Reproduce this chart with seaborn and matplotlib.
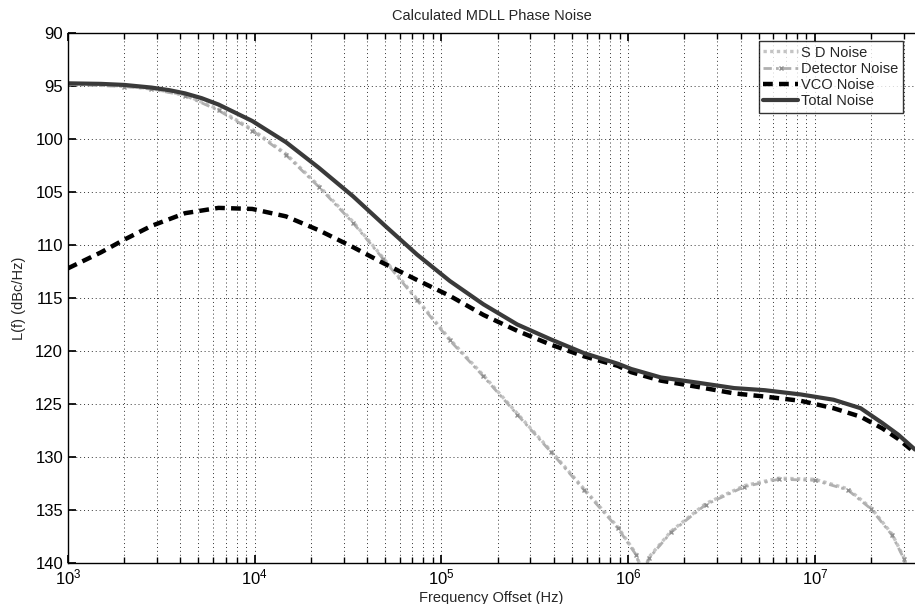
import numpy as np
import pandas as pd
import matplotlib
matplotlib.use("Agg")
import matplotlib.pyplot as plt
import seaborn as sns
from matplotlib.ticker import LogLocator, MultipleLocator, NullFormatter

sns.set_theme(style="white")
plt.rcParams['font.family'] = ['Liberation Sans', 'DejaVu Sans']

# values (positive dBc/Hz, axis runs 90 top -> 140 bottom)
total_f = [1e3, 1.5e3, 2e3, 2.8e3, 3.5e3, 4.24e3, 5.2e3, 6.4e3, 9.7e3, 1.47e4, 2.2e4, 3.36e4, 5e4, 7.4e4,
           1.11e5, 1.68e5, 2.55e5, 3.85e5, 5.8e5, 8.8e5, 1.04e6, 1.5e6, 2.38e6, 3.7e6, 5.4e6, 8.4e6,
           1.26e7, 1.76e7, 2.3e7, 2.8e7, 3.44e7]
total_v = [94.75, 94.8, 94.9, 95.15, 95.4, 95.7, 96.15, 96.75, 98.3, 100.3, 102.7, 105.4, 108.2, 110.9,
           113.4, 115.6, 117.5, 118.9, 120.2, 121.2, 121.7, 122.5, 123.0, 123.5, 123.7, 124.1,
           124.6, 125.4, 126.8, 127.9, 129.3]

vco_f = [1e3, 1.5e3, 2e3, 2.8e3, 4.24e3, 6.4e3, 9.7e3, 1.47e4, 2.2e4, 3.36e4, 4.87e4, 7.4e4, 1.11e5,
         1.68e5, 2.55e5, 3.85e5, 5.8e5, 8.8e5, 1.04e6, 1.5e6, 2.38e6, 3.7e6, 5.4e6, 8.4e6,
         1.26e7, 1.76e7, 2.3e7, 2.8e7, 3.44e7]
vco_v = [112.2, 110.7, 109.5, 108.2, 107.0, 106.5, 106.6, 107.3, 108.6, 110.2, 111.7, 113.3, 114.8,
         116.6, 118.1, 119.4, 120.5, 121.4, 122.0, 122.8, 123.4, 124.0, 124.3, 124.7,
         125.4, 126.2, 127.3, 128.3, 129.6]

det_f = [1e3, 2e3, 2.8e3, 4.24e3, 6.4e3, 9.7e3, 1.47e4, 2.2e4, 3.36e4, 4.87e4, 7.4e4, 1.11e5,
         1.68e5, 2.55e5, 3.85e5, 5.8e5, 8.8e5, 1.1e6, 1.2e6, 1.3e6, 1.7e6, 2.6e6, 4.2e6,
         6.4e6, 1e7, 1.5e7, 2e7, 2.6e7, 3e7, 3.2e7]
det_v = [94.85, 95.05, 95.3, 95.9, 97.3, 99.2, 101.5, 104.5, 107.9, 111.3, 115.2, 119.0,
         122.4, 126.0, 129.5, 133.1, 136.7, 139.2, 141.0, 139.5, 137.1, 134.5, 132.8,
         132.1, 132.2, 133.1, 134.9, 137.4, 139.6, 141.5]

sd_f = [1e3, 2e3, 2.8e3, 4.24e3, 6.4e3, 9.7e3, 1.47e4, 2.2e4, 3.36e4, 4.87e4, 7.4e4, 1.11e5,
        1.68e5, 2.55e5, 3.85e5, 5.8e5, 8.8e5, 1.1e6, 1.2e6, 1.3e6, 1.7e6, 2.6e6, 4.2e6,
        6.4e6, 1e7, 1.5e7, 2e7, 2.6e7, 3e7, 3.2e7]
sd_v = [94.8, 95.0, 95.25, 95.85, 97.2, 99.1, 101.4, 104.4, 107.8, 111.2, 115.1, 118.9,
        122.3, 125.9, 129.4, 133.0, 136.6, 139.1, 141.0, 139.4, 137.0, 134.4, 132.7,
        132.0, 132.1, 133.0, 134.8, 137.3, 139.5, 141.5]

fig = plt.figure(figsize=(9.15, 6.04), dpi=100)
ax = fig.add_axes([0.0743, 0.0679, 0.9257, 0.8775])

sns.lineplot(x=sd_f, y=sd_v, ax=ax, color="#c4c4c4", lw=2.4, linestyle=(0, (1, 1)), label="S D Noise")
sns.lineplot(x=det_f, y=det_v, ax=ax, color="#b0b0b0", lw=2.0, linestyle=(0, (3, 1.5, 1, 1.5)),
             marker="x", markersize=3, markeredgecolor="#909090", markeredgewidth=1.0,
             label="Detector Noise")
sns.lineplot(x=vco_f, y=vco_v, ax=ax, color="black", lw=3.2, linestyle=(0, (2.2, 1.4)), label="VCO Noise")
sns.lineplot(x=total_f, y=total_v, ax=ax, color="#3a3a3a", lw=3.0, label="Total Noise")

ax.set_xscale("log")
ax.set_xlim(1e3, 3.44e7)
ax.set_ylim(140, 90)
ax.yaxis.set_major_locator(MultipleLocator(5))
ax.xaxis.set_major_locator(LogLocator(base=10, numticks=10))
ax.xaxis.set_minor_locator(LogLocator(base=10, subs=np.arange(2, 10), numticks=100))
ax.xaxis.set_minor_formatter(NullFormatter())

ax.grid(True, which="major", color="#333333", linestyle=(0, (1, 3)), lw=0.7)
ax.grid(True, which="minor", axis="x", color="#333333", linestyle=(0, (1, 3)), lw=0.7)
ax.tick_params(which="both", direction="in", top=True, left=True, bottom=True, labelsize=12, colors="black")
ax.tick_params(which="major", length=6)
ax.tick_params(which="minor", length=4)
for s in ["left", "bottom", "top"]:
    ax.spines[s].set_color("black")
    ax.spines[s].set_linewidth(1.0)
ax.spines["right"].set_visible(False)

ax.set_title("Calculated MDLL Phase Noise", fontsize=10.5, pad=9)
ax.set_xlabel("Frequency Offset (Hz)", fontsize=10.5, labelpad=2)
ax.set_ylabel("L(f) (dBc/Hz)", fontsize=10.5, labelpad=7)

leg = ax.legend(loc="upper right", bbox_to_anchor=(0.989, 0.99), fontsize=10.5, frameon=True,
                fancybox=False, edgecolor="black", borderpad=0.3, labelspacing=0.15,
                handlelength=2.4, handletextpad=0.2, borderaxespad=0.2)
leg.get_frame().set_linewidth(1.0)

fig.savefig("out.png", dpi=100)
